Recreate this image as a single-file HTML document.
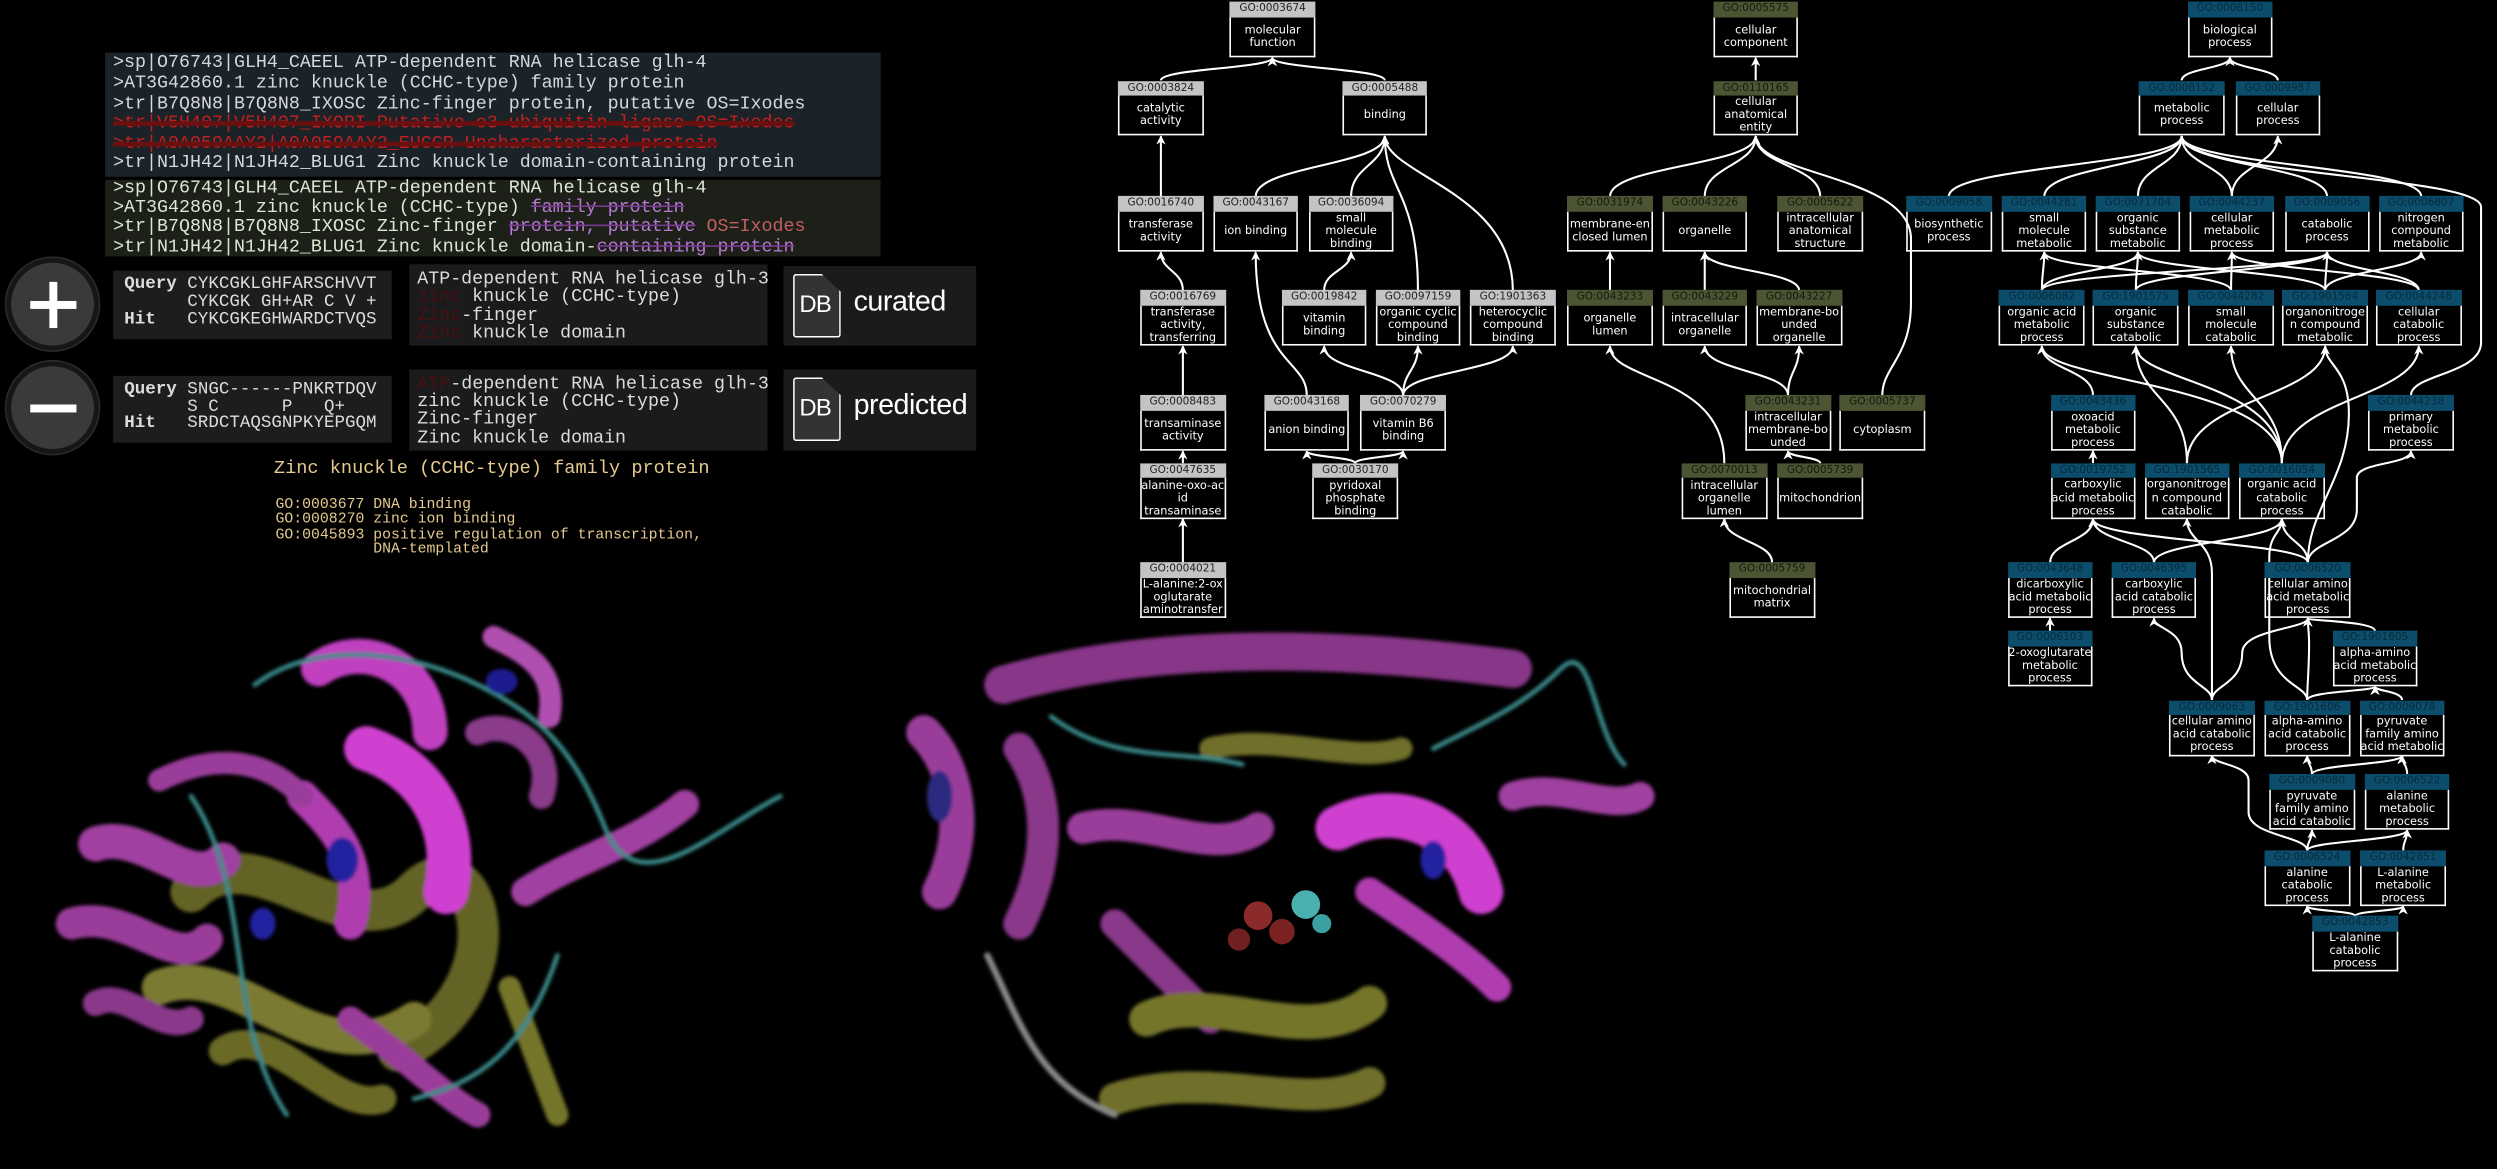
<!DOCTYPE html>
<html><head><meta charset="utf-8">
<style>
html,body{margin:0;padding:0;background:#000;width:2497px;height:1169px;overflow:hidden}
#root{position:absolute;left:0;top:0;width:1568px;height:734px;transform:scale(1.59247);transform-origin:0 0;background:#000}
.mono{font-family:"Liberation Mono",monospace;white-space:pre}
.p1{position:absolute;left:66px;top:33px;width:487px;height:78px;background:#1b2228}
.p2{position:absolute;left:66px;top:113px;width:487px;height:48px;background:#1c2019}
.ln{position:absolute;left:5px;font-size:11.5px;line-height:12px;color:#d4d8dc}
.p2 .ln{color:#dde6d2}
.red{color:#c42020;text-decoration:line-through;text-decoration-color:#6a1010;text-decoration-thickness:3px}
.pur{color:#b77ad0;text-decoration:line-through;text-decoration-color:#7a3a90}
.box{position:absolute;background:#1b1b1d}
.q{position:absolute;font-size:11px;line-height:11px;color:#dcdcdc}
.dl{position:absolute;left:5px;font-size:11.5px;line-height:11px;color:#dcdcdc}
.dr{color:#4a1010}
.circ{position:absolute;width:52px;height:52px;border-radius:50%;background:#3a3a3a;border:3px solid #161616;box-shadow:0 0 0 1px #2a2a2a}
.db{position:absolute;left:6px;top:5px;width:28px;height:38px;border:1.6px solid #fff;border-radius:2px;clip-path:polygon(0 0,60% 0,100% 28%,100% 100%,0 100%);background:#333}
.dbt{position:absolute;left:10px;top:16px;font-family:"Liberation Sans",sans-serif;font-size:15px;color:#fff;letter-spacing:-0.5px}
.dbw{position:absolute;left:44px;top:12px;font-family:"Liberation Sans",sans-serif;font-size:18px;color:#fff;letter-spacing:-0.3px}
.tan{color:#e5c98e}
.n{position:absolute;width:53.5px;height:35px;font-family:"DejaVu Sans",sans-serif}
.h{height:9.6px;line-height:9.8px;font-size:6.6px;text-align:center}
.mf .h{background:#c4c4c4;color:#222}
.cc .h{background:#4b5433;color:#151a0e}
.bp .h{background:#0b4d6b;color:#082a3c}
.b{box-sizing:border-box;height:25.4px;border:1px solid #fff;border-top:none;display:flex;align-items:center;justify-content:center;text-align:center;color:#fff;font-size:7.1px;line-height:8.1px;overflow:hidden;white-space:nowrap}
svg{position:absolute;left:0;top:0}
</style></head><body><div id="root">

<!-- proteins -->
<svg width="1568" height="734" viewBox="0 0 1568 734">
<defs><filter id="bl"><feGaussianBlur stdDeviation="1.2"/></filter></defs>
<g filter="url(#bl)" stroke-linecap="round" fill="none">
<!-- left protein -->
<path d="M120 560 C160 520 220 600 260 560 S330 620 250 660" stroke="#6f6f2a" stroke-width="26" opacity="0.9"/>
<path d="M100 620 C150 600 200 680 260 640" stroke="#7a7a30" stroke-width="22"/>
<path d="M140 660 C170 640 210 700 240 690" stroke="#6a6a28" stroke-width="18"/>
<path d="M320 620 L350 700" stroke="#75752c" stroke-width="14"/>
<path d="M60 530 C90 520 120 560 140 540" stroke="#a040a0" stroke-width="22"/>
<path d="M45 580 C80 570 110 610 130 590" stroke="#9a3c9a" stroke-width="20"/>
<path d="M60 630 C80 620 100 650 120 640" stroke="#8a388a" stroke-width="16"/>
<path d="M200 420 C230 400 270 420 270 460" stroke="#c040c0" stroke-width="22"/>
<path d="M230 470 C260 480 290 510 280 560" stroke="#d040d0" stroke-width="28"/>
<path d="M190 500 C210 520 230 540 220 580" stroke="#b03cb0" stroke-width="20"/>
<path d="M330 560 C360 540 400 530 430 505" stroke="#a040a0" stroke-width="18"/>
<path d="M300 460 C320 450 350 470 340 500" stroke="#8a3a8a" stroke-width="16"/>
<path d="M100 490 C140 470 170 480 190 500" stroke="#9a3c9a" stroke-width="14"/>
<path d="M220 640 C250 660 280 690 300 700" stroke="#9a3c9a" stroke-width="16"/>
<path d="M160 430 C200 400 260 410 300 430 S360 470 380 520 S450 520 490 500" stroke="#3a8a8a" stroke-width="3"/>
<path d="M120 500 C160 560 140 640 180 700" stroke="#3a8a8a" stroke-width="3"/>
<path d="M260 690 C300 680 330 660 350 600" stroke="#3a8a8a" stroke-width="3"/>
<ellipse cx="215" cy="540" rx="10" ry="14" fill="#2020a0" stroke="none"/>
<ellipse cx="165" cy="580" rx="8" ry="10" fill="#2020a0" stroke="none"/>
<ellipse cx="315" cy="428" rx="10" ry="8" fill="#1c1c90" stroke="none"/>
<path d="M310 400 C330 410 350 420 345 450" stroke="#b050b0" stroke-width="14"/>
<!-- right protein -->
<path d="M630 430 C700 410 800 400 950 420" stroke="#a040a0" stroke-width="24" opacity="0.85"/>
<path d="M580 460 C600 480 610 520 590 560" stroke="#9a3c9a" stroke-width="22"/>
<path d="M640 470 C660 500 660 540 640 580" stroke="#8a388a" stroke-width="20"/>
<path d="M680 520 C720 510 760 540 790 520" stroke="#9a3c9a" stroke-width="20"/>
<path d="M840 520 C880 500 920 520 930 560" stroke="#d040d0" stroke-width="28"/>
<path d="M860 560 C890 580 920 600 940 620" stroke="#b03cb0" stroke-width="18"/>
<path d="M950 500 C980 490 1010 510 1030 500" stroke="#a040a0" stroke-width="18"/>
<path d="M700 580 C720 600 740 620 760 640" stroke="#8a388a" stroke-width="18"/>
<path d="M720 640 C760 620 820 660 860 630" stroke="#75752c" stroke-width="22"/>
<path d="M700 690 C760 670 820 700 860 680" stroke="#6f6f2a" stroke-width="20"/>
<path d="M760 470 C800 460 850 480 880 470" stroke="#6f6f2a" stroke-width="14"/>
<path d="M620 600 C640 640 650 680 700 700" stroke="#8a8a8a" stroke-width="4"/>
<path d="M900 470 C940 450 960 440 980 420 S1000 460 1020 480" stroke="#3a8a8a" stroke-width="3"/>
<path d="M660 450 C700 480 740 470 780 480" stroke="#3a8a8a" stroke-width="3"/>
<ellipse cx="590" cy="500" rx="8" ry="16" fill="#2a2a80" stroke="none"/>
<ellipse cx="900" cy="540" rx="8" ry="12" fill="#2020a0" stroke="none"/>
</g>
<circle cx="790" cy="575" r="9" fill="#8a2a2a"/><circle cx="805" cy="585" r="8" fill="#7a2222"/>
<circle cx="820" cy="568" r="9" fill="#4ab0b0"/><circle cx="778" cy="590" r="7" fill="#702020"/>
<circle cx="830" cy="580" r="6" fill="#3aa0a0"/>
</svg>

<!-- text panels -->
<div class="p1 mono">
<div class="ln" style="top:1px">&gt;sp|O76743|GLH4_CAEEL ATP-dependent RNA helicase glh-4</div>
<div class="ln" style="top:14px">&gt;AT3G42860.1 zinc knuckle (CCHC-type) family protein</div>
<div class="ln" style="top:27px">&gt;tr|B7Q8N8|B7Q8N8_IXOSC Zinc-finger protein, putative OS=Ixodes</div>
<div class="ln red" style="top:39px">&gt;tr|V5H407|V5H407_IXORI Putative e3 ubiquitin ligase OS=Ixodes</div>
<div class="ln red" style="top:52px">&gt;tr|A0A059AAY2|A0A059AAY2_EUCGR Uncharacterized protein</div>
<div class="ln" style="top:64px">&gt;tr|N1JH42|N1JH42_BLUG1 Zinc knuckle domain-containing protein</div>
</div>
<div class="p2 mono">
<div class="ln" style="top:0px">&gt;sp|O76743|GLH4_CAEEL ATP-dependent RNA helicase glh-4</div>
<div class="ln" style="top:12px">&gt;AT3G42860.1 zinc knuckle (CCHC-type) <span class="pur">family protein</span></div>
<div class="ln" style="top:24px">&gt;tr|B7Q8N8|B7Q8N8_IXOSC Zinc-finger <span class="pur">protein, putative</span> <span class="red" style="text-decoration:none;color:#c06060">OS=Ixodes</span></div>
<div class="ln" style="top:37px">&gt;tr|N1JH42|N1JH42_BLUG1 Zinc knuckle domain-<span class="pur">containing protein</span></div>
</div>

<div class="circ" style="left:4px;top:162px"><div style="position:absolute;left:11.5px;top:23.5px;width:29px;height:5px;background:#fff"></div><div style="position:absolute;left:23.5px;top:11.5px;width:5px;height:29px;background:#fff"></div></div>
<div class="circ" style="left:4px;top:227px"><div style="position:absolute;left:11.5px;top:23.5px;width:29px;height:5px;background:#fff"></div></div>

<div class="box mono" style="left:71px;top:170px;width:175px;height:43px;background:#1d1d1d">
<div class="q" style="left:7px;top:4px"><b>Query</b> CYKCGKLGHFARSCHVVT</div>
<div class="q" style="left:7px;top:15px">      CYKCGK GH+AR C V +</div>
<div class="q" style="left:7px;top:26px"><b>Hit</b>   CYKCGKEGHWARDCTVQS</div>
</div>
<div class="box mono" style="left:71px;top:236px;width:175px;height:42px;background:#1d1d1d">
<div class="q" style="left:7px;top:4px"><b>Query</b> SNGC------PNKRTDQV</div>
<div class="q" style="left:7px;top:15px">      S C      P   Q+</div>
<div class="q" style="left:7px;top:25px"><b>Hit</b>   SRDCTAQSGNPKYEPGQM</div>
</div>
<div class="box mono" style="left:257px;top:166px;width:225px;height:51px">
<div class="dl" style="top:4px">ATP-dependent RNA helicase glh-3</div>
<div class="dl" style="top:15px"><span class="dr">zinc</span> knuckle (CCHC-type)</div>
<div class="dl" style="top:27px"><span class="dr">Zinc</span>-finger</div>
<div class="dl" style="top:38px"><span class="dr">Zinc</span> knuckle domain</div>
</div>
<div class="box mono" style="left:257px;top:232px;width:225px;height:51px">
<div class="dl" style="top:4px"><span class="dr">ATP</span>-dependent RNA helicase glh-3</div>
<div class="dl" style="top:15px">zinc knuckle (CCHC-type)</div>
<div class="dl" style="top:26px">Zinc-finger</div>
<div class="dl" style="top:38px">Zinc knuckle domain</div>
</div>
<div class="box" style="left:492px;top:167px;width:121px;height:50px"><div class="db"></div><div class="dbt">DB</div><div class="dbw">curated</div></div>
<div class="box" style="left:492px;top:232px;width:121px;height:51px"><div class="db"></div><div class="dbt">DB</div><div class="dbw">predicted</div></div>

<div class="mono tan" style="position:absolute;left:172px;top:287px;font-size:11.7px">Zinc knuckle (CCHC-type) family protein</div>
<div class="mono tan" style="position:absolute;left:173px;top:312px;font-size:9.3px;line-height:9.3px">GO:0003677 DNA binding
GO:0008270 zinc ion binding
GO:0045893 positive regulation of transcription,
           DNA-templated</div>

<!-- edges -->
<svg width="1568" height="734" viewBox="0 0 1568 734">
<defs><marker id="ar" viewBox="0 0 10 10" refX="9" refY="5" markerWidth="4.5" markerHeight="4.5" orient="auto"><path d="M0 0 L10 5 L0 10 L3 5 z" fill="#fff"/></marker></defs>
<g stroke="#fff" stroke-width="1.3" fill="none" marker-end="url(#ar)">
<path d="M729 50.5 C729 43 799 43 799 36.3"/>
<path d="M869.6 50.5 C869.6 43 799 43 799 36.3"/>
<path d="M729 123.4 L729 85.5"/>
<path d="M788.5 123.4 C788.5 104 869.6 104 869.6 85.5"/>
<path d="M848.4 123.4 C848.4 104 869.6 104 869.6 85.5"/>
<path d="M890.4 182.4 C890.4 120 869.6 120 869.6 85.5"/>
<path d="M950 182.4 C950 120 869.6 110 869.6 85.5"/>
<path d="M742.8 182.4 C742.8 170 729 170 729 158.4"/>
<path d="M831.5 182.4 C831.5 170 848.4 170 848.4 158.4"/>
<path d="M820.6 248.3 C820.6 225 788.5 230 788.5 158.4"/>
<path d="M881.1 248.3 C881.1 233 831.5 233 831.5 217.4"/>
<path d="M881.1 248.3 C881.1 233 890.4 233 890.4 217.4"/>
<path d="M881.1 248.3 C881.1 233 950 233 950 217.4"/>
<path d="M742.8 248.3 L742.8 217.4"/>
<path d="M742.8 290.9 L742.8 283.3"/>
<path d="M851 290.9 C851 287 820.6 287 820.6 283.3"/>
<path d="M851 290.9 C851 287 881.1 287 881.1 283.3"/>
<path d="M742.8 353.2 L742.8 325.9"/>

<path d="M1102.5 50.5 L1102.5 36.3"/>
<path d="M1011 123.4 C1011 104 1102.5 104 1102.5 85.5"/>
<path d="M1070.5 123.4 C1070.5 104 1102.5 104 1102.5 85.5"/>
<path d="M1143 123.4 C1143 104 1102.5 104 1102.5 85.5"/>
<path d="M1182 248.3 C1182 230 1200 225 1200 190 L1200 150 C1200 110 1102.5 110 1102.5 85.5"/>
<path d="M1011 182.4 L1011 158.4"/>
<path d="M1070.5 182.4 L1070.5 158.4"/>
<path d="M1129.8 182.4 C1129.8 170 1070.5 170 1070.5 158.4"/>
<path d="M1122.8 248.3 C1122.8 233 1070.5 233 1070.5 217.4"/>
<path d="M1122.8 248.3 C1122.8 233 1129.8 233 1129.8 217.4"/>
<path d="M1143 290.9 C1143 287 1122.8 287 1122.8 283.3"/>
<path d="M1082.8 290.9 C1082.8 235 1011 240 1011 217.4"/>
<path d="M1112.8 353.2 C1112.8 340 1082.8 340 1082.8 325.9"/>

<path d="M1370 50.5 C1370 43 1400.3 43 1400.3 36.2"/>
<path d="M1430.4 50.5 C1430.4 43 1400.3 43 1400.3 36.2"/>
<path d="M1223.8 123.3 C1223.8 104 1370 104 1370 85.5"/>
<path d="M1283.7 123.3 C1283.7 104 1370 104 1370 85.5"/>
<path d="M1342.5 123.3 C1342.5 104 1370 104 1370 85.5"/>
<path d="M1401.5 123.3 C1401.5 104 1370 104 1370 85.5"/>
<path d="M1461.3 123.3 C1461.3 104 1370 104 1370 85.5"/>
<path d="M1520.4 123.3 C1520.4 104 1370 104 1370 85.5"/>
<path d="M1401.5 123.3 C1401.5 104 1430.4 104 1430.4 85.5"/>
<path d="M1514 248.2 C1514 235 1558 235 1558 215 L1558 130 C1558 110 1370 110 1370 85.5"/>
<path d="M1282.2 182.4 C1282.2 170 1283.7 170 1283.7 158.3"/>
<path d="M1282.2 182.4 C1282.2 170 1342.5 170 1342.5 158.3"/>
<path d="M1282.2 182.4 C1282.2 170 1461.3 170 1461.3 158.3"/>
<path d="M1341.2 182.4 C1341.2 170 1342.5 170 1342.5 158.3"/>
<path d="M1341.2 182.4 C1341.2 170 1461.3 170 1461.3 158.3"/>
<path d="M1401 182.4 C1401 170 1283.7 170 1283.7 158.3"/>
<path d="M1401 182.4 C1401 170 1401.5 170 1401.5 158.3"/>
<path d="M1460.1 182.4 C1460.1 170 1461.3 170 1461.3 158.3"/>
<path d="M1460.1 182.4 C1460.1 170 1520.4 170 1520.4 158.3"/>
<path d="M1460.1 182.4 C1460.1 170 1342.5 170 1342.5 158.3"/>
<path d="M1518.9 182.4 C1518.9 170 1401.5 170 1401.5 158.3"/>
<path d="M1518.9 182.4 C1518.9 170 1461.3 170 1461.3 158.3"/>
<path d="M1314.3 248.2 C1314.3 232 1282.2 232 1282.2 217.4"/>
<path d="M1314.3 290.8 L1314.3 283.2"/>
<path d="M1373.3 290.8 C1373.3 250 1341.2 250 1341.2 217.4"/>
<path d="M1373.3 290.8 C1373.3 250 1460.1 250 1460.1 217.4"/>
<path d="M1432.9 290.8 C1432.9 240 1282.2 240 1282.2 217.4"/>
<path d="M1432.9 290.8 C1432.9 240 1341.2 240 1341.2 217.4"/>
<path d="M1432.9 290.8 C1432.9 250 1401 250 1401 217.4"/>
<path d="M1432.9 290.8 C1432.9 250 1518.9 250 1518.9 217.4"/>
<path d="M1287.4 353.2 C1287.4 340 1314.3 340 1314.3 325.8"/>
<path d="M1352.6 353.2 C1352.6 340 1314.3 340 1314.3 325.8"/>
<path d="M1352.6 353.2 C1352.6 340 1432.9 340 1432.9 325.8"/>
<path d="M1449.2 353.2 C1449.2 340 1314.3 340 1314.3 325.8"/>
<path d="M1449.2 353.2 C1449.2 340 1432.9 340 1432.9 325.8"/>
<path d="M1449.2 353.2 C1449.2 320 1475 300 1475 260 C1475 230 1460.1 230 1460.1 217.4"/>
<path d="M1449.2 353.2 C1449.2 340 1480 340 1480 320 L1480 300 C1480 290 1514 292 1514 283.2"/>
<path d="M1287.3 396.2 L1287.3 388.2"/>
<path d="M1389 439.6 C1389 430 1370 430 1370 410 C1370 395 1352.6 395 1352.6 388.2"/>
<path d="M1389 439.6 C1389 420 1389 380 1389 360 C1389 340 1373.3 340 1373.3 325.8"/>
<path d="M1389 439.6 C1389 430 1408 430 1408 410 C1408 395 1449.2 395 1449.2 388.2"/>
<path d="M1448.8 439.6 C1448.8 430 1425 430 1425 400 L1425 350 C1425 335 1432.9 335 1432.9 325.8"/>
<path d="M1448.8 439.6 C1448.8 430 1450 420 1450 405 C1450 395 1449.2 395 1449.2 388.2"/>
<path d="M1448.8 439.6 C1448.8 434 1491.4 434 1491.4 431.2"/>
<path d="M1491.4 396.2 C1491.4 390 1449.2 390 1449.2 388.2"/>
<path d="M1508.4 439.6 C1508.4 434 1491.4 434 1491.4 431.2"/>
<path d="M1451.8 486.2 C1451.8 480 1448.8 480 1448.8 474.6"/>
<path d="M1451.8 486.2 C1451.8 480 1508.4 480 1508.4 474.6"/>
<path d="M1511.6 486.2 C1511.6 480 1508.4 480 1508.4 474.6"/>
<path d="M1448.8 534 C1448.8 525 1412 525 1412 510 L1412 490 C1412 480 1389 480 1389 474.6"/>
<path d="M1448.8 534 C1448.8 528 1451.8 528 1451.8 521.2"/>
<path d="M1448.8 534 C1448.8 528 1511.6 528 1511.6 521.2"/>
<path d="M1509.1 534 C1509.1 528 1511.6 528 1511.6 521.2"/>
<path d="M1478.9 575.2 C1478.9 572 1448.8 572 1448.8 569"/>
<path d="M1478.9 575.2 C1478.9 572 1509.1 572 1509.1 569"/>
</g></svg>

<!-- MF nodes -->
<div class="n mf" style="left:772.4px;top:1.3px"><div class="h">GO:0003674</div><div class="b">molecular<br>function</div></div>
<div class="n mf" style="left:702.2px;top:50.5px"><div class="h">GO:0003824</div><div class="b">catalytic<br>activity</div></div>
<div class="n mf" style="left:842.9px;top:50.5px"><div class="h">GO:0005488</div><div class="b">binding</div></div>
<div class="n mf" style="left:702.2px;top:123.4px"><div class="h">GO:0016740</div><div class="b">transferase<br>activity</div></div>
<div class="n mf" style="left:761.8px;top:123.4px"><div class="h">GO:0043167</div><div class="b">ion binding</div></div>
<div class="n mf" style="left:821.7px;top:123.4px"><div class="h">GO:0036094</div><div class="b">small<br>molecule<br>binding</div></div>
<div class="n mf" style="left:716px;top:182.4px"><div class="h">GO:0016769</div><div class="b">transferase<br>activity,<br>transferring</div></div>
<div class="n mf" style="left:804.8px;top:182.4px"><div class="h">GO:0019842</div><div class="b">vitamin<br>binding</div></div>
<div class="n mf" style="left:863.7px;top:182.4px"><div class="h">GO:0097159</div><div class="b">organic cyclic<br>compound<br>binding</div></div>
<div class="n mf" style="left:923.3px;top:182.4px"><div class="h">GO:1901363</div><div class="b">heterocyclic<br>compound<br>binding</div></div>
<div class="n mf" style="left:716px;top:248.3px"><div class="h">GO:0008483</div><div class="b">transaminase<br>activity</div></div>
<div class="n mf" style="left:793.9px;top:248.3px"><div class="h">GO:0043168</div><div class="b">anion binding</div></div>
<div class="n mf" style="left:854.4px;top:248.3px"><div class="h">GO:0070279</div><div class="b">vitamin B6<br>binding</div></div>
<div class="n mf" style="left:716px;top:290.9px"><div class="h">GO:0047635</div><div class="b">alanine-oxo-ac<br>id<br>transaminase</div></div>
<div class="n mf" style="left:824.3px;top:290.9px"><div class="h">GO:0030170</div><div class="b">pyridoxal<br>phosphate<br>binding</div></div>
<div class="n mf" style="left:716px;top:353.2px"><div class="h">GO:0004021</div><div class="b">L-alanine:2-ox<br>oglutarate<br>aminotransfer</div></div>

<!-- CC nodes -->
<div class="n cc" style="left:1075.8px;top:1.3px"><div class="h">GO:0005575</div><div class="b">cellular<br>component</div></div>
<div class="n cc" style="left:1075.8px;top:50.5px"><div class="h">GO:0110165</div><div class="b">cellular<br>anatomical<br>entity</div></div>
<div class="n cc" style="left:984.2px;top:123.4px"><div class="h">GO:0031974</div><div class="b">membrane-en<br>closed lumen</div></div>
<div class="n cc" style="left:1043.8px;top:123.4px"><div class="h">GO:0043226</div><div class="b">organelle</div></div>
<div class="n cc" style="left:1116.2px;top:123.4px"><div class="h">GO:0005622</div><div class="b">intracellular<br>anatomical<br>structure</div></div>
<div class="n cc" style="left:984.2px;top:182.4px"><div class="h">GO:0043233</div><div class="b">organelle<br>lumen</div></div>
<div class="n cc" style="left:1043.8px;top:182.4px"><div class="h">GO:0043229</div><div class="b">intracellular<br>organelle</div></div>
<div class="n cc" style="left:1103px;top:182.4px"><div class="h">GO:0043227</div><div class="b">membrane-bo<br>unded<br>organelle</div></div>
<div class="n cc" style="left:1096px;top:248.3px"><div class="h">GO:0043231</div><div class="b">intracellular<br>membrane-bo<br>unded</div></div>
<div class="n cc" style="left:1155.3px;top:248.3px"><div class="h">GO:0005737</div><div class="b">cytoplasm</div></div>
<div class="n cc" style="left:1056px;top:290.9px"><div class="h">GO:0070013</div><div class="b">intracellular<br>organelle<br>lumen</div></div>
<div class="n cc" style="left:1116.2px;top:290.9px"><div class="h">GO:0005739</div><div class="b">mitochondrion</div></div>
<div class="n cc" style="left:1086px;top:353.2px"><div class="h">GO:0005759</div><div class="b">mitochondrial<br>matrix</div></div>

<!-- BP nodes -->
<div class="n bp" style="left:1373.5px;top:1.2px"><div class="h">GO:0008150</div><div class="b">biological<br>process</div></div>
<div class="n bp" style="left:1343.3px;top:50.5px"><div class="h">GO:0008152</div><div class="b">metabolic<br>process</div></div>
<div class="n bp" style="left:1403.6px;top:50.5px"><div class="h">GO:0009987</div><div class="b">cellular<br>process</div></div>
<div class="n bp" style="left:1197px;top:123.3px"><div class="h">GO:0009058</div><div class="b">biosynthetic<br>process</div></div>
<div class="n bp" style="left:1256.9px;top:123.3px"><div class="h">GO:0044281</div><div class="b">small<br>molecule<br>metabolic</div></div>
<div class="n bp" style="left:1315.7px;top:123.3px"><div class="h">GO:0071704</div><div class="b">organic<br>substance<br>metabolic</div></div>
<div class="n bp" style="left:1374.7px;top:123.3px"><div class="h">GO:0044237</div><div class="b">cellular<br>metabolic<br>process</div></div>
<div class="n bp" style="left:1434.5px;top:123.3px"><div class="h">GO:0009056</div><div class="b">catabolic<br>process</div></div>
<div class="n bp" style="left:1493.6px;top:123.3px"><div class="h">GO:0006807</div><div class="b">nitrogen<br>compound<br>metabolic</div></div>
<div class="n bp" style="left:1255.4px;top:182.4px"><div class="h">GO:0006082</div><div class="b">organic acid<br>metabolic<br>process</div></div>
<div class="n bp" style="left:1314.4px;top:182.4px"><div class="h">GO:1901575</div><div class="b">organic<br>substance<br>catabolic</div></div>
<div class="n bp" style="left:1374.2px;top:182.4px"><div class="h">GO:0044282</div><div class="b">small<br>molecule<br>catabolic</div></div>
<div class="n bp" style="left:1433.3px;top:182.4px"><div class="h">GO:1901564</div><div class="b">organonitroge<br>n compound<br>metabolic</div></div>
<div class="n bp" style="left:1492.1px;top:182.4px"><div class="h">GO:0044248</div><div class="b">cellular<br>catabolic<br>process</div></div>
<div class="n bp" style="left:1287.5px;top:248.2px"><div class="h">GO:0043436</div><div class="b">oxoacid<br>metabolic<br>process</div></div>
<div class="n bp" style="left:1487.2px;top:248.2px"><div class="h">GO:0044238</div><div class="b">primary<br>metabolic<br>process</div></div>
<div class="n bp" style="left:1287.5px;top:290.8px"><div class="h">GO:0019752</div><div class="b">carboxylic<br>acid metabolic<br>process</div></div>
<div class="n bp" style="left:1346.5px;top:290.8px"><div class="h">GO:1901565</div><div class="b">organonitroge<br>n compound<br>catabolic</div></div>
<div class="n bp" style="left:1406.1px;top:290.8px"><div class="h">GO:0016054</div><div class="b">organic acid<br>catabolic<br>process</div></div>
<div class="n bp" style="left:1260.6px;top:353.2px"><div class="h">GO:0043648</div><div class="b">dicarboxylic<br>acid metabolic<br>process</div></div>
<div class="n bp" style="left:1325.8px;top:353.2px"><div class="h">GO:0046395</div><div class="b">carboxylic<br>acid catabolic<br>process</div></div>
<div class="n bp" style="left:1422.4px;top:353.2px"><div class="h">GO:0006520</div><div class="b">cellular amino<br>acid metabolic<br>process</div></div>
<div class="n bp" style="left:1260.5px;top:396.2px"><div class="h">GO:0006103</div><div class="b">2-oxoglutarate<br>metabolic<br>process</div></div>
<div class="n bp" style="left:1464.6px;top:396.2px"><div class="h">GO:1901605</div><div class="b">alpha-amino<br>acid metabolic<br>process</div></div>
<div class="n bp" style="left:1362.2px;top:439.6px"><div class="h">GO:0009063</div><div class="b">cellular amino<br>acid catabolic<br>process</div></div>
<div class="n bp" style="left:1422px;top:439.6px"><div class="h">GO:1901606</div><div class="b">alpha-amino<br>acid catabolic<br>process</div></div>
<div class="n bp" style="left:1481.6px;top:439.6px"><div class="h">GO:0009078</div><div class="b">pyruvate<br>family amino<br>acid metabolic</div></div>
<div class="n bp" style="left:1425px;top:486.2px"><div class="h">GO:0009080</div><div class="b">pyruvate<br>family amino<br>acid catabolic</div></div>
<div class="n bp" style="left:1484.8px;top:486.2px"><div class="h">GO:0006522</div><div class="b">alanine<br>metabolic<br>process</div></div>
<div class="n bp" style="left:1422px;top:534px"><div class="h">GO:0006524</div><div class="b">alanine<br>catabolic<br>process</div></div>
<div class="n bp" style="left:1482.3px;top:534px"><div class="h">GO:0042851</div><div class="b">L-alanine<br>metabolic<br>process</div></div>
<div class="n bp" style="left:1452.1px;top:575.2px"><div class="h">GO:0042853</div><div class="b">L-alanine<br>catabolic<br>process</div></div>

</div></body></html>
